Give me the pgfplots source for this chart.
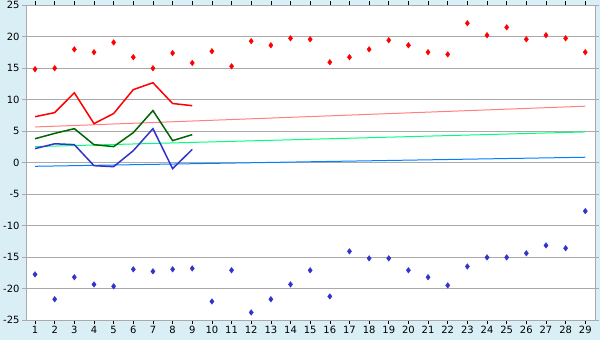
\documentclass[border=0pt]{standalone}
\usepackage{fontspec}
\setmainfont{DejaVu Sans}
\usepackage{pgfplots}
\pgfplotsset{compat=1.18}
\definecolor{bg}{HTML}{DAEFF5}
\definecolor{gridc}{HTML}{AAAAAA}
\definecolor{bluec}{HTML}{3333CC}
\definecolor{greenc}{HTML}{006600}
\definecolor{tred}{HTML}{FF8080}
\definecolor{tgreen}{HTML}{00FF80}
\definecolor{tblue}{HTML}{0080FF}
\begin{document}
\begin{tikzpicture}
\useasboundingbox (0,0) rectangle (600bp,340bp);
\fill[bg] (0,0) rectangle (600bp,340bp);
\begin{axis}[
  at={(26bp,20bp)}, anchor=south west,
  scale only axis, width=569.3bp, height=314.7bp,
  xmin=0.54, xmax=29.51, ymin=-25, ymax=25,
  xtick={1,...,29}, ytick={-25,-20,...,25},
  ymajorgrids, grid style={gridc, line width=0.8bp},
  axis background/.style={fill=white},
  axis line style={gridc, line width=1bp},
  tick align=outside, major tick length=4bp,
  xtick style={black, line width=0.6bp},
  ytick style={gridc, line width=0.8bp},
  tick label style={font=\fontsize{10}{11}\selectfont},
  /pgf/number format/assume math mode=true,
  yticklabel style={xshift=1bp},
  xticklabel style={yshift=1bp},
  clip=false,
]
% trend lines
\addplot[tred, line width=1bp] coordinates {(1,5.67) (29,8.97)};
\addplot[tgreen, line width=1bp] coordinates {(1,2.55) (29,4.88)};
\addplot[tblue, line width=1bp] coordinates {(1,-0.58) (29,0.86)};
% lines
\addplot[red, line width=1.5bp] coordinates {(1,7.3) (2,7.95) (3,11.1) (4,6.2) (5,7.8) (6,11.6) (7,12.7) (8,9.4) (9,9.05)};
\addplot[greenc, line width=1.5bp] coordinates {(1,3.8) (2,4.65) (3,5.4) (4,2.85) (5,2.55) (6,4.77) (7,8.27) (8,3.5) (9,4.45)};
\addplot[bluec, line width=1.5bp] coordinates {(1,2.23) (2,3.0) (3,2.86) (4,-0.48) (5,-0.64) (6,1.9) (7,5.4) (8,-0.95) (9,2.1)};
% max points
\addplot[only marks, mark=diamond*, mark size=2.8bp, red, mark options={fill=red}] coordinates {
(1,14.85) (2,15.0) (3,18.0) (4,17.55) (5,19.1) (6,16.75) (7,15.0) (8,17.4) (9,15.85)
(10,17.7) (11,15.3) (12,19.3) (13,18.65) (14,19.75) (15,19.6) (16,15.95) (17,16.75) (18,18.0) (19,19.45)
(20,18.65) (21,17.55) (22,17.2) (23,22.15) (24,20.25) (25,21.5) (26,19.6) (27,20.25) (28,19.75) (29,17.55)};
% min points
\addplot[only marks, mark=diamond*, mark size=2.8bp, bluec, mark options={fill=bluec}] coordinates {
(1,-17.75) (2,-21.7) (3,-18.2) (4,-19.35) (5,-19.65) (6,-16.95) (7,-17.27) (8,-16.95) (9,-16.8)
(10,-22.05) (11,-17.1) (12,-23.8) (13,-21.7) (14,-19.35) (15,-17.1) (16,-21.25) (17,-14.1) (18,-15.2) (19,-15.2)
(20,-17.1) (21,-18.2) (22,-19.5) (23,-16.5) (24,-15.05) (25,-15.05) (26,-14.4) (27,-13.15) (28,-13.6) (29,-7.7)};
\end{axis}
\end{tikzpicture}
\end{document}
